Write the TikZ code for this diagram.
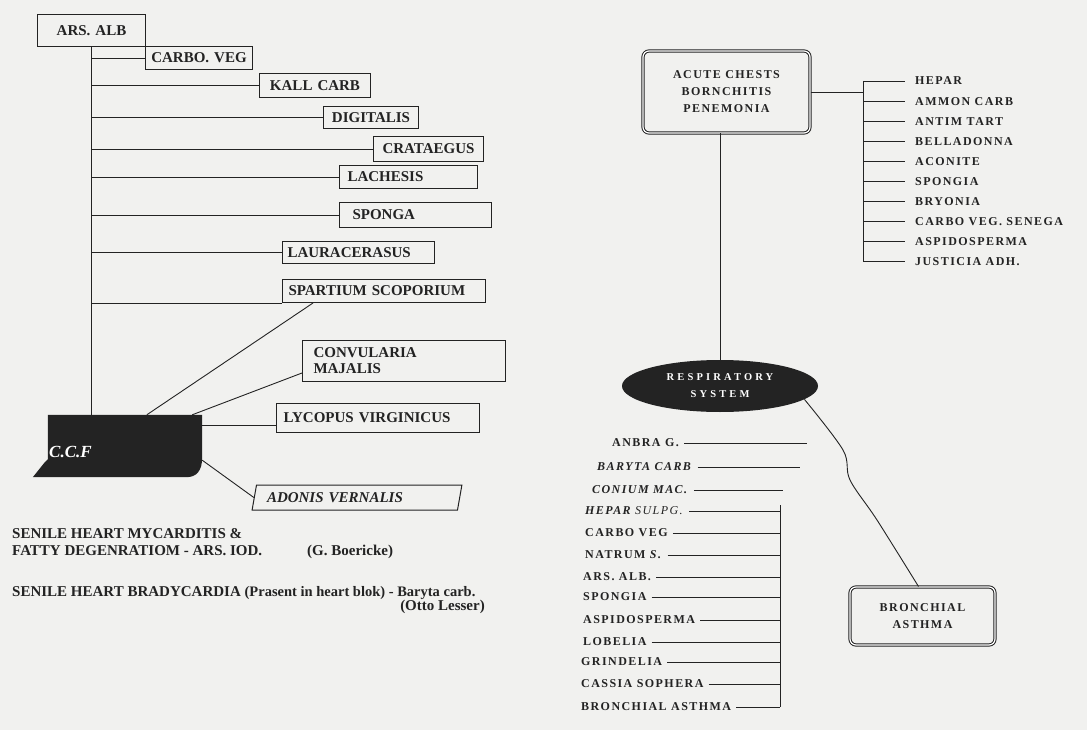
\documentclass[tikz,border=0pt]{standalone}
\usepackage{fontspec}
\setmainfont{Liberation Serif}
\newfontfamily\spacedserif[LetterSpace=12]{Liberation Serif}
\newfontfamily\widespaced[LetterSpace=30]{Liberation Serif}
\usetikzlibrary{shapes.geometric}
\definecolor{ink}{RGB}{35,35,35}
\definecolor{paper}{RGB}{241,241,239}
\newcommand\remfont{\fontsize{15}{16}\selectfont\bfseries}
\newcommand\lstfont{\spacedserif\fontsize{12}{17}\selectfont\bfseries}
\newcommand\ovalfont{\widespaced\fontsize{10.5}{17}\selectfont\bfseries}
\tikzset{
  remedy/.style={draw=ink,line width=1pt,font=\remfont,text=ink,anchor=north west,inner ysep=0pt,align=left},
  cardbox/.style={draw=ink,line width=1pt,double=white,double distance=1.2pt,rounded corners=6pt,font=\lstfont,text=ink,align=center},
  drug/.style={font=\lstfont,text=ink,inner sep=0pt,anchor=west},
  link/.style={draw=ink,line width=0.9pt},
  note/.style={font=\remfont,text=ink,anchor=base west,inner sep=0pt}
}
\begin{document}
\begin{tikzpicture}[x=1pt,y=-1pt]
\useasboundingbox[fill=paper] (0,0) rectangle (1087,730);

% heart remedies
\node[remedy,minimum height=32pt,text width=100pt,inner xsep=4pt,align=center] (ars) at (37,14) {ARS. ALB};
\node[remedy,minimum height=23pt,text width=99pt,inner xsep=4pt,align=center] (carbo) at (145,46) {CARBO. VEG};
\node[remedy,minimum height=24pt,text width=103pt,inner xsep=4pt,align=center] (kall) at (259,73) {KALL CARB};
\node[remedy,minimum height=22pt,text width=87pt,inner xsep=4pt,align=center] (digit) at (323,106) {DIGITALIS};
\node[remedy,minimum height=25pt,text width=102pt,inner xsep=4pt,align=center] (crat) at (373,136) {CRATAEGUS};
\node[remedy,minimum height=23pt,text width=122pt,inner xsep=8pt] (lach) at (339,165) {LACHESIS};
\node[remedy,minimum height=25pt,text width=126pt,inner xsep=13pt] (sponga) at (339,202) {SPONGA};
\node[remedy,minimum height=22pt,text width=142pt,inner xsep=5pt] (laur) at (282,241) {LAURACERASUS};
\node[remedy,minimum height=23pt,text width=191pt,inner xsep=6pt] (spart) at (282,279) {SPARTIUM SCOPORIUM};
\node[remedy,minimum height=41pt,text width=181pt,inner xsep=11pt] (conv) at (302,340) {CONVULARIA\\MAJALIS};
\node[remedy,minimum height=29pt,text width=189pt,inner xsep=7pt] (lyco) at (276,403) {LYCOPUS VIRGINICUS};
\node[draw=ink,line width=1pt,trapezium,trapezium left angle=68,trapezium right angle=112,trapezium stretches=true,
  minimum width=210pt,minimum height=25pt,inner ysep=0pt,text width=180pt,align=left,font=\remfont\itshape,text=ink] (adonis) at (357,497.5) {ADONIS VERNALIS};

\draw[link] (ars.south) -- (ars.south |- 0,415);
\foreach \b in {carbo,kall,digit,crat,lach,sponga,laur}
  \draw[link] (ars.south |- \b.west) -- (\b.west);
\draw[link] (ars.south |- spart.south west) -- (spart.south west);

\node[minimum width=154pt,minimum height=62pt,inner sep=0pt] (ccf) at (125,446) {};
\draw[link] ([xshift=31pt]spart.south west) -- ([xshift=99pt]ccf.north west);
\draw[link] ([yshift=-12pt]conv.west) -- ([xshift=-10pt]ccf.north east);
\coordinate (lycoin) at ([yshift=-7pt]lyco.west);
\draw[link] (lycoin -| ccf.east) -- (lycoin);
\draw[link] ([yshift=17pt]ccf.south east) -- (adonis.west);
\fill[ink] (ccf.north west) -- (ccf.north east) -- ([yshift=20pt]ccf.south east)
  .. controls ([yshift=6pt]ccf.south east) and ([xshift=-6pt]ccf.south east) .. ([xshift=-16pt]ccf.south east)
  -- ([xshift=-15pt]ccf.south west) -- ([xshift=-3pt,yshift=15pt]ccf.south west) -- ([yshift=18pt]ccf.south west) -- cycle;
\node[font=\fontsize{17}{17}\selectfont\bfseries\itshape,text=white,anchor=west,inner sep=0pt] (ccfname) at (49,452) {C.C.F};

\node[note] (mycard) at (12,538) {SENILE HEART MYCARDITIS \&};
\node[note] (fatty) at (12,555) {FATTY DEGENRATIOM - ARS. IOD.};
\node[note] (boer) at (307,555) {(G. Boericke)};
\node[note] (brady) at (12,596) {SENILE HEART BRADYCARDIA {\fontsize{14.5}{16}\selectfont(Prasent in heart blok) - Baryta carb.}};
\node[note,anchor=base east] (lesser) at (485,610) {(Otto Lesser)};

% respiratory remedies
\node[cardbox,minimum width=167pt,minimum height=82pt] (acute) at (726.5,92) {ACUTE CHESTS\\BORNCHITIS\\PENEMONIA};
\foreach \name [count=\i from 0] in {HEPAR,AMMON CARB,ANTIM TART,BELLADONNA,ACONITE,SPONGIA,BRYONIA,CARBO VEG. SENEGA,ASPIDOSPERMA,JUSTICIA ADH.}{
  \node[drug] (r\i) at (915,{81+20.1*\i}) {\name};
  \coordinate (rs\i) at (863,{81+20.1*\i});
  \draw[link] (rs\i) -- ([xshift=-10pt]r\i.west);
}
\draw[link] (rs0) -- (rs9);
\draw[link] (acute.east) -- (acute.east -| rs0);

\node[ellipse,fill=ink,minimum width=196pt,minimum height=52pt,inner sep=0pt,text=white,font=\ovalfont,align=center] (resp) at (720,386) {RESPIRATORY\\SYSTEM};
\draw[link] (resp.north |- acute.south) -- (resp.north);

\node[cardbox,minimum width=145pt,minimum height=58pt] (bron) at (922.5,616) {BRONCHIAL\\ASTHMA};
\draw[link] plot[smooth,tension=0.55] coordinates {(resp.-9) (843,450) (850,480) (877,520) ([xshift=-4pt]bron.north)};

\foreach \y/\xl/\xe/\lbl [count=\i] in {443/612/807/{ANBRA G.},467/597/800/{\textit{BARYTA CARB}},490/592/783/{\textit{CONIUM MAC.}},
  511/585/780/{\textit{HEPAR \mdseries SULPG.}},533/585/780/{CARBO VEG},555/585/780/{NATRUM \textit{S.}},577/583/780/{ARS. ALB.},
  597/583/780/{SPONGIA},620/583/780/{ASPIDOSPERMA},642/583/780/{LOBELIA},662/581/780/{GRINDELIA},684/581/780/{CASSIA SOPHERA},
  707/581/780/{BRONCHIAL ASTHMA}}{
  \node[drug] (l\i) at (\xl,\y) {\lbl};
  \coordinate (le\i) at (\xe,\y);
  \draw[link] ([xshift=5pt]l\i.east) -- (le\i);
}
\coordinate (ltop) at (780,505);
\draw[link] (ltop) -- (le13);
\end{tikzpicture}
\end{document}
